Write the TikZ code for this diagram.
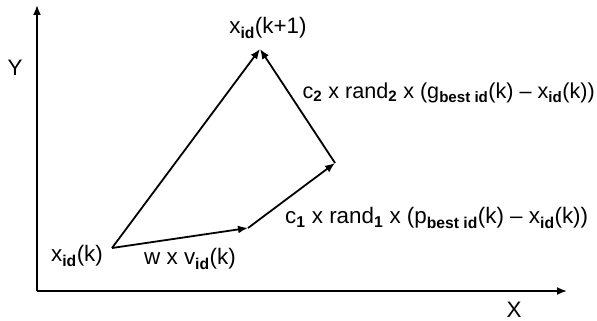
\documentclass[tikz,border=0pt]{standalone}
\usepackage{fontspec}
\setmainfont{Liberation Sans}
\usetikzlibrary{arrows.meta}
\newcommand\sbs[1]{\textsubscript{\textbf{#1}}}
\begin{document}
\begin{tikzpicture}[x=1pt,y=-1pt,
  vec/.style={line width=1.8pt,-{Latex[length=10pt,width=8pt]}},
  axis/.style={line width=1.8pt,-{Latex[length=10pt,width=8pt]}},
  lbl/.style={inner sep=0pt,font=\fontsize{22.4}{26}\selectfont}]
\useasboundingbox (0,0) rectangle (597,321);
\coordinate (O) at (37,291);
\coordinate (Ytip) at (37,5);
\coordinate (Xtip) at (567,291);
\coordinate (A) at (112,248);
\coordinate (B) at (248,228);
\coordinate (C) at (335,163);
\coordinate (D) at (260,49);
\draw[axis] (O) -- (Ytip);
\draw[axis] (O) -- (Xtip);
\draw[vec] (A) -- (B);
\draw[vec] (B) -- (C);
\draw[vec] (C) -- (D);
\draw[vec] (A) -- (D);
\node[lbl] (ly) at (15,68) {Y};
\node[lbl] (lx) at (514,310) {X};
\node[lbl] (la) at (77,256) {x\sbs{id}(k)};
\node[lbl] (lw) at (190,259) {w x v\sbs{id}(k)};
\node[lbl] (ld) at (268,28) {x\sbs{id}(k+1)};
\node[lbl,anchor=east,font=\fontsize{21.6}{26}\selectfont] (lc2) at (595,93) {c\sbs{2} x rand\sbs{2} x (g\sbs{best id}(k) -- x\sbs{id}(k))};
\node[lbl,anchor=west] (lc1) at (285,218) {c\sbs{1} x rand\sbs{1} x (p\sbs{best id}(k) -- x\sbs{id}(k))};
\end{tikzpicture}
\end{document}
